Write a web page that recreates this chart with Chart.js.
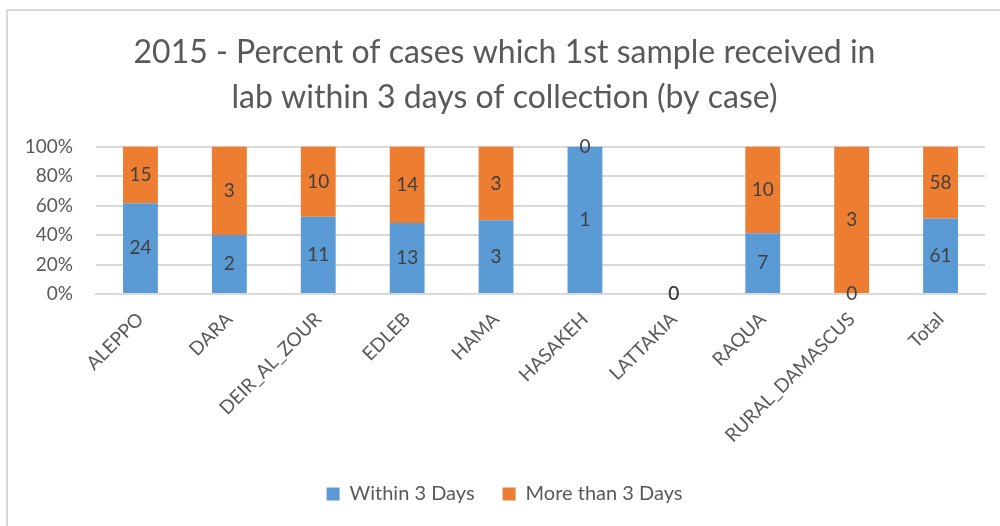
<!DOCTYPE html>
<html>
<head>
<meta charset="utf-8">
<script src="https://cdn.jsdelivr.net/npm/chart.js@4"></script>
<style>
  html, body { margin: 0; padding: 0; background: #fff; }
  #wrap { width: 1000px; height: 526px; position: relative; }
</style>
</head>
<body>
<div id="wrap"><canvas id="chart"></canvas></div>
<script>
const categories = ['ALEPPO', 'DARA', 'DEIR_AL_ZOUR', 'EDLEB', 'HAMA', 'HASAKEH', 'LATTAKIA', 'RAQUA', 'RURAL_DAMASCUS', 'Total'];
const withinCounts = [24, 2, 11, 13, 3, 1, 0, 7, 0, 61];
const moreCounts = [15, 3, 10, 14, 3, 0, 0, 10, 3, 58];
const yTicks = [0, 20, 40, 60, 80, 100];

// 100% stacked: share of each category's total
const share = (a, b) => a.map((v, i) => (a[i] + b[i]) ? v / (a[i] + b[i]) * 100 : 0);

const TEXT = '#595959';
const FONT = 'Lato, "Open Sans", sans-serif';

// draws the counts in the middle of each segment
const countLabels = {
  id: 'countLabels',
  afterDatasetsDraw(chart) {
    const { ctx } = chart;
    ctx.save();
    ctx.font = '19px ' + FONT;
    ctx.fillStyle = '#404040';
    ctx.textAlign = 'center';
    ctx.textBaseline = 'middle';
    chart.data.datasets.forEach((ds, di) => {
      chart.getDatasetMeta(di).data.forEach((el, i) => {
        ctx.fillText(String(ds.counts[i]), el.x, (el.y + el.base) / 2);
      });
    });
    ctx.restore();
  }
};

// light frame line on top and left, as in the source picture
const frame = {
  id: 'frame',
  beforeDraw(chart) {
    const { ctx } = chart;
    ctx.save();
    ctx.strokeStyle = '#d9d9d9';
    ctx.lineWidth = 2;
    ctx.beginPath();
    ctx.moveTo(7, 526);
    ctx.lineTo(7, 10);
    ctx.lineTo(1000, 10);
    ctx.stroke();
    ctx.restore();
  }
};

new Chart(document.getElementById('chart'), {
  type: 'bar',
  data: {
    labels: categories,
    datasets: [
      {
        label: 'Within 3 Days',
        data: share(withinCounts, moreCounts),
        counts: withinCounts,
        backgroundColor: '#5b9bd5',
        barPercentage: 0.8,
        categoryPercentage: 0.49,
      },
      {
        label: 'More than 3 Days',
        data: share(moreCounts, withinCounts),
        counts: moreCounts,
        backgroundColor: '#ed7d31',
        barPercentage: 0.8,
        categoryPercentage: 0.49,
      }
    ]
  },
  options: {
    responsive: true,
    maintainAspectRatio: false,
    animation: false,
    layout: { padding: { left: 24, right: 15, bottom: 12, top: 0 } },
    scales: {
      x: {
        stacked: true,
        grid: { display: false },
        border: { color: '#d9d9d9', width: 2 },
        ticks: {
          color: TEXT,
          font: { family: FONT, size: 19 },
          minRotation: 45,
          maxRotation: 45,
          padding: 6,
        },
        afterFit: (axis) => { axis.height = 162; }
      },
      y: {
        stacked: true,
        min: 0,
        max: 100,
        afterBuildTicks: (axis) => { axis.ticks = yTicks.map(v => ({ value: v })); },
        grid: { color: '#d9d9d9', lineWidth: 2, drawTicks: false },
        border: { display: false },
        ticks: {
          color: TEXT,
          font: { family: FONT, size: 19 },
          padding: 23,
          callback: (v) => v + '%'
        },
        afterFit: (axis) => { axis.width = 72; }
      }
    },
    plugins: {
      title: {
        display: true,
        text: ['2015 - Percent of cases which 1st sample received in', 'lab within 3 days of collection (by case)'],
        color: TEXT,
        font: { family: FONT, size: 32, weight: 'normal', lineHeight: 1.4 },
        padding: { top: 30, bottom: 27 }
      },
      legend: {
        position: 'bottom',
        labels: {
          color: TEXT,
          font: { family: FONT, size: 20 },
          boxWidth: 13,
          boxHeight: 13,
          padding: 28,
        }
      },
      tooltip: { enabled: false }
    }
  },
  plugins: [frame, countLabels]
});
</script>
</body>
</html>
